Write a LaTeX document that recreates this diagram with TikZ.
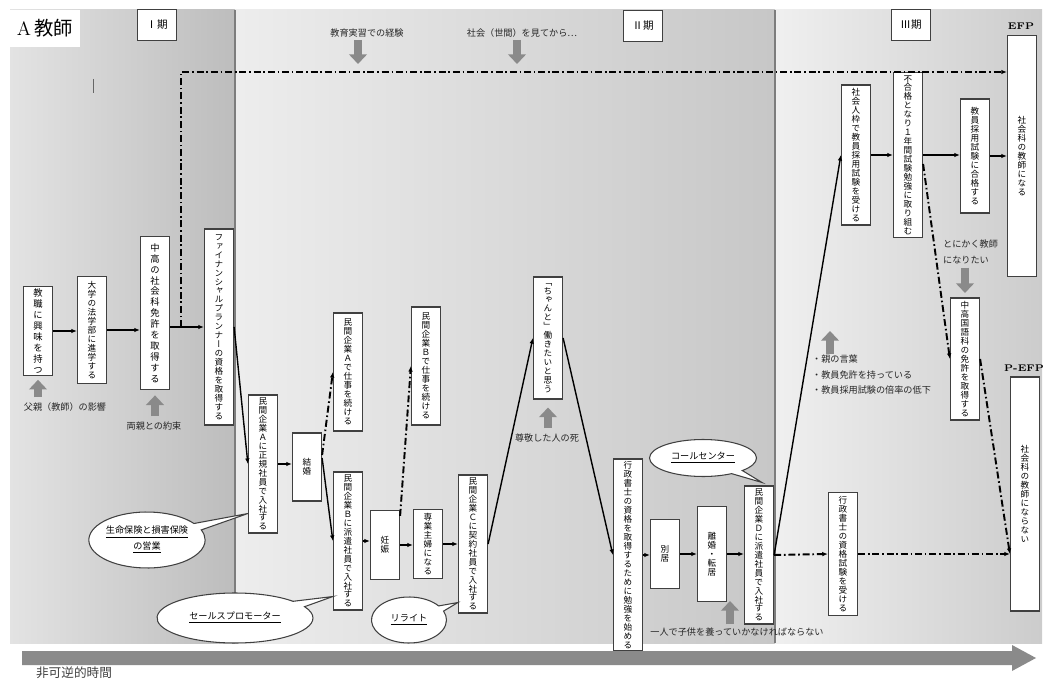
\documentclass[tikz,border=0pt]{standalone}
\usepackage{fontspec}
\newfontfamily\jp{Noto Sans CJK JP}
\newfontfamily\vjp[RawFeature=+vert]{Noto Sans CJK JP}
\usetikzlibrary{
  arrows.meta,
  calc,
  shapes.callouts,
  shapes.geometric
}
\definecolor{pushgray}{RGB}{138,138,138}
\definecolor{linegray}{RGB}{125,125,125}

% stack the characters of a label one above the other
\ExplSyntaxOn
\NewDocumentCommand\vtext{m}{\vbox{\tl_map_inline:nn{#1}{\hbox_to_wd:nn{1.2em}{\hss##1\hss}}}}
\ExplSyntaxOff

\begin{document}
\begin{tikzpicture}[
  x=0.02cm, y=-0.02cm,
  stage/.style={rectangle, draw=black!75, fill=white, line width=0.7pt, inner sep=1.5pt, minimum width=0.58cm, minimum height=#1*0.02cm, font=\fontsize{4.9}{5.1}\selectfont\vjp},
  loose/.style={font=\fontsize{5.3}{6.2}\selectfont\vjp},
  period/.style={rectangle, draw=black!75, fill=white, line width=0.7pt, minimum width=0.78cm, minimum height=0.62cm, font=\fontsize{6}{7}\selectfont\jp},
  flow/.style={-{Latex[length=3.2pt, width=2.6pt]}, line width=0.8pt},
  altflow/.style={-{Latex[length=3.2pt, width=2.6pt]}, line width=1.1pt, dash pattern=on 4pt off 1.6pt on 0.9pt off 1.6pt},
  push/.style={-{Triangle[length=5.5pt, width=10pt]}, line width=4.2pt, draw=pushgray},
  bubble/.style={ellipse callout, draw=black!75, fill=white, line width=0.6pt, align=center, inner sep=0pt, font=\fontsize{5.2}{9}\selectfont\jp},
  note/.style={inner sep=1pt, text=black!85, font=\fontsize{5.2}{8.8}\selectfont\jp},
  tag/.style={inner sep=1pt, font=\fontsize{5.5}{6}\selectfont\bfseries}
]
\useasboundingbox (0,0) rectangle (1045,682);

% Background panels for the three periods
\shade[left color=black!11, right color=black!26] (10,10) rectangle (235,643);
\shade[left color=black!7, right color=black!22] (235,10) rectangle (775,643);
\shade[left color=black!6, right color=black!20] (775,10) rectangle (1042,643);
\draw[linegray, line width=1.2pt] (235,10) -- (235,643);
\draw[linegray, line width=1.2pt] (775,10) -- (775,643);
\fill[white] (10,10) rectangle (80,47);
\draw[black!60, line width=0.5pt] (93,79) -- (93,93);

% Title and period labels
\node (title) at (45,28) {\fontsize{11}{11}\selectfont A\,{\jp 教師}};
\node[period] (p1) at (157,25) {Ⅰ期};
\node[period] (p2) at (643,26) {Ⅱ期};
\node[period] (p3) at (911,25) {Ⅲ期};

% Period I
\node[stage=82, loose] (job) at (38,331) {\vtext{教職に興味を持つ}};
\node[stage=107] (law) at (92,330) {\vtext{大学の法学部に進学する}};
\node[stage=153, loose] (lic) at (155,313) {\vtext{中高の社会科免許を取得する}};
\node[stage=196] (fp) at (219,327) {\vtext{ファイナンシャルプランナーの資格を取得する}};

% Period II
\node[stage=135] (compA) at (263,464) {\vtext{民間企業Ａに正規社員で入社する}};
\node[stage=68] (marr) at (307,467) {\vtext{結婚}};
\node[stage=118] (contA) at (348,372) {\vtext{民間企業Ａで仕事を続ける}};
\node[stage=136] (compB) at (348,541) {\vtext{民間企業Ｂに派遣社員で入社する}};
\node[stage=69] (preg) at (385,545) {\vtext{妊娠}};
\node[stage=118] (contB) at (426,366) {\vtext{民間企業Ｂで仕事を続ける}};
\node[stage=69] (house) at (428,544) {\vtext{専業主婦になる}};
\node[stage=135] (compC) at (473,544) {\vtext{民間企業Ｃに契約社員で入社する}};
\node[stage=122] (want) at (548,338) {\vtext{「ちゃんと」働きたいと思う}};
\node[stage=192] (study) at (628,555) {\vtext{行政書士の資格を取得するために勉強を始める}};
\node[stage=69] (sep) at (665,554) {\vtext{別居}};
\node[stage=95] (div) at (712,554) {\vtext{離婚・転居}};
\node[stage=136] (compD) at (759,555) {\vtext{民間企業Ｄに派遣社員で入社する}};

% Period III
\node[stage=140] (exam1) at (856,155) {\vtext{社会人枠で教員採用試験を受ける}};
\node[stage=163] (fail) at (908,155) {\vtext{不合格となり１年間試験勉強に取り組む}};
\node[stage=114] (pass) at (975,156) {\vtext{教員採用試験に合格する}};
\node[stage=241] (efp) at (1022,156) {\vtext{社会科の教師になる}};
\node[stage=122] (jpn) at (965,359) {\vtext{中高国語科の免許を取得する}};
\node[stage=234] (pefp) at (1025,494) {\vtext{社会科の教師にならない}};
\node[stage=123] (admin) at (843,554) {\vtext{行政書士の資格試験を受ける}};
\node[tag] (efplbl) at (1021,26) {EFP};
\node[tag] (pefplbl) at (1024,368) {P-EFP};

% Influences
\node[note] (father) at (65,407) {父親（教師）の影響};
\node[note] (promise) at (154,426) {両親との約束};
\node[note] (practice) at (367,33) {教育実習での経験};
\node[note] (society) at (522,33) {社会（世間）を見てから…};
\node[note] (death) at (547,438) {尊敬した人の死};
\node[note] (alone) at (737,632) {一人で子供を養っていかなければならない};
\node[note, anchor=west, align=left] (words) at (810,375) {・親の言葉\\・教員免許を持っている\\・教員採用試験の倍率の低下};
\node[note, anchor=west, align=left] (anyway) at (941,252) {とにかく教師\\になりたい};

\draw[push, shorten <=2pt, shorten >=2pt] (father.north -| job.south) -- (job.south);
\draw[push, shorten <=2pt, shorten >=3pt] (promise.north -| lic.south) -- (lic.south);
\draw[push, shorten <=2pt, shorten >=4.5pt] (death.north -| want.south) -- (want.south);
\draw[push, shorten <=1pt, shorten >=2.5pt] (anyway.south -| jpn.north) -- (jpn.north);
\draw[push] (358,40) -- (358,64);
\draw[push] (517,40) -- (517,64);
\draw[push] (730,624) -- (730,601);
\draw[push] (830,354) -- (830,331);

% Main path
\draw[flow] (job.east) -- (job.east -| law.west);
\draw[flow] (law.east) -- (law.east -| lic.west);
\draw[flow] (lic.east |- fp.west) -- (fp.west);
\draw[flow] (fp.east) -- (compA.west);
\draw[flow] (compA.east) -- (compA.east -| marr.west);
\draw[flow] ($(marr.east)+(0,-9)$) -- (compB.west);
\draw[flow] (compB.east) -- (compB.east -| preg.west);
\draw[flow] (preg.east) -- (preg.east -| house.west);
\draw[flow] (house.east) -- (house.east -| compC.west);
\draw[flow] (compC.east) -- (want.west);
\draw[flow] (want.east) -- (study.west);
\draw[flow] (study.east) -- (study.east -| sep.west);
\draw[flow] (sep.east) -- (sep.east -| div.west);
\draw[flow] (div.east) -- (div.east -| compD.west);
\draw[flow] (compD.east) -- (exam1.west);
\draw[flow] (exam1.east) -- (exam1.east -| fail.west);
\draw[flow] (fail.east) -- (fail.east -| pass.west);
\draw[flow] (pass.east) -- (pass.east -| efp.west);

% Paths not taken
\coordinate (turn) at ($(lic.east |- fp.west)!0.33!(fp.west)$);
\coordinate (ceil) at (0,72);
\draw[altflow] (turn) |- (ceil -| efp.west);
\draw[altflow] ($(marr.east)+(0,-12)$) -- (contA.west);
\draw[altflow] ($(preg.north east)+(0,6)$) -- (contB.west);
\draw[altflow] (compD.east) -- (admin.west);
\draw[altflow] (admin.east) -- (admin.east -| pefp.west);
\draw[altflow] ($(fail.east)+(0,9)$) -- (jpn.west);
\draw[altflow] (jpn.east) -- (admin.east -| pefp.west);

% Job contents
\node[bubble, minimum width=2.28cm, minimum height=1.12cm, callout absolute pointer={($(compA.south west)+(0,-20)$)}] (insur) at (147,540) {\underline{生命保険と損害保険}\\\underline{の営業}};
\node[bubble, minimum width=3.12cm, minimum height=1.0cm, callout absolute pointer={($(compB.south west)+(0,-14)$)}] (promo) at (235,618) {\underline{セールスプロモーター}};
\node[bubble, minimum width=1.5cm, minimum height=0.92cm, callout absolute pointer={($(compC.south west)+(0,-11)$)}] (rewrite) at (409,620) {\underline{リライト}};
\node[bubble, minimum width=2.14cm, minimum height=0.74cm, callout absolute pointer={($(compD.north)+(3,-3)$)}] (call) at (703,458) {\underline{コールセンター}};

% Time axis
\fill[pushgray] (22,651) -- (1012,651) -- (1012,645) -- (1036,658) -- (1012,671) -- (1012,665) -- (22,665) -- cycle;
\node[inner sep=1pt, text=black!75, font=\fontsize{7.2}{8}\selectfont\jp] (irrev) at (74,673) {非可逆的時間};

\end{tikzpicture}
\end{document}
